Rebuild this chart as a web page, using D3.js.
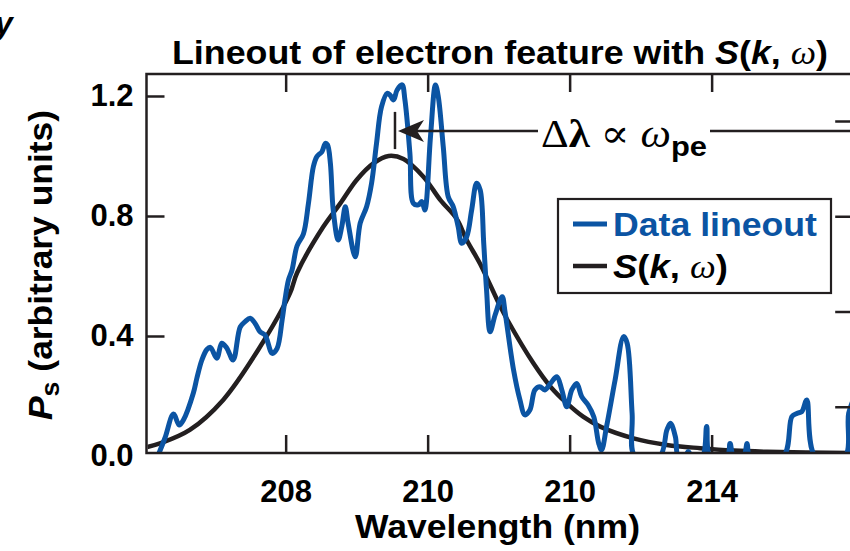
<!DOCTYPE html>
<html>
<head>
<meta charset="utf-8">
<script src="https://cdn.jsdelivr.net/npm/d3@7"></script>
<style>
  html, body { margin: 0; padding: 0; background: #ffffff; }
  svg { display: block; }
</style>
</head>
<body>
<svg id="chart" width="850" height="551"></svg>
<script>
// Measured lineout of the electron feature (wavelength in nm, signal in arbitrary units)
const lineoutWavelength = [
  206.20, 206.30, 206.42, 206.50, 206.56, 206.70, 206.75, 206.82, 206.89, 206.94,
  207.03, 207.10, 207.17, 207.26, 207.36, 207.43, 207.50, 207.57, 207.64, 207.71,
  207.81, 207.88, 207.95, 207.99, 208.04, 208.09, 208.16, 208.25, 208.32, 208.39,
  208.44, 208.51, 208.56, 208.59, 208.63, 208.67, 208.74, 208.79, 208.84, 208.88,
  208.98, 209.05, 209.14, 209.21, 209.28, 209.35, 209.43, 209.47, 209.52, 209.57,
  209.64, 209.68, 209.75, 209.80, 209.87, 209.92, 209.96, 210.04, 210.11, 210.15,
  210.22, 210.29, 210.36, 210.43, 210.48, 210.55, 210.62, 210.69, 210.74, 210.79,
  210.83, 210.88, 210.95, 211.05, 211.09, 211.21, 211.30, 211.37, 211.44, 211.51,
  211.58, 211.65, 211.73, 211.82, 211.89, 211.96, 212.03, 212.10, 212.17, 212.26,
  212.34, 212.41, 212.45, 212.52, 212.64, 212.76, 212.81, 212.88, 212.92, 213.27,
  213.37, 213.42, 213.49, 213.53, 213.63, 213.67, 213.72, 213.87, 213.93, 213.98,
  214.22, 214.26, 214.31, 214.45, 214.50, 214.54, 215.01, 215.13, 215.20, 215.27,
  215.34, 215.46, 215.88, 215.93, 216.02
];
const lineoutSignal = [
  0.00, 0.06, 0.14, 0.103, 0.12, 0.21, 0.26, 0.32, 0.355, 0.362,
  0.326, 0.376, 0.36, 0.32, 0.43, 0.448, 0.459, 0.442, 0.414, 0.403,
  0.342, 0.359, 0.453, 0.52, 0.587, 0.62, 0.70, 0.74, 0.84, 0.964,
  0.998, 1.014, 1.042, 1.037, 0.976, 0.82, 0.72, 0.764, 0.831, 0.776,
  0.664, 0.776, 0.831, 0.909, 1.042, 1.164, 1.209, 1.203, 1.187, 1.22,
  1.237, 1.187, 1.009, 0.842, 0.837, 0.848, 0.82, 1.064, 1.237, 1.198,
  1.031, 0.864, 0.831, 0.764, 0.709, 0.731, 0.82, 0.909, 0.887, 0.709,
  0.553, 0.414, 0.47, 0.531, 0.48, 0.287, 0.187, 0.137, 0.153, 0.22,
  0.231, 0.22, 0.242, 0.264, 0.22, 0.164, 0.22, 0.242, 0.198, 0.17,
  0.131, 0.042, 0.02, 0.098, 0.253, 0.398, 0.376, 0.142, 0.00, 0.00,
  0.087, 0.109, 0.064, 0.00, 0.00, 0.015, 0.00, 0.00, 0.098, 0.00,
  0.00, 0.042, 0.00, 0.00, 0.042, 0.00, 0.00, 0.131, 0.142, 0.148,
  0.187, 0.00, 0.00, 0.142, 0.20
];

// Computed form factor S(k, ω)
const modelWavelength = [
  206.05, 206.23, 206.65, 207.12, 207.64, 208.06, 208.16, 208.53, 208.77, 209.00,
  209.24, 209.45, 209.66, 209.94, 210.18, 210.41, 210.55, 210.74, 211.02, 211.12,
  211.49, 211.73, 211.96, 212.19, 212.43, 212.90, 213.37, 213.84, 214.31, 214.78,
  215.98
];
const modelSignal = [
  0.030, 0.042, 0.087, 0.187, 0.364, 0.542, 0.61, 0.764, 0.842, 0.920,
  0.976, 1.000, 0.990, 0.931, 0.853, 0.790, 0.720, 0.640, 0.500, 0.455,
  0.309, 0.231, 0.176, 0.131, 0.098, 0.059, 0.037, 0.026, 0.018, 0.014,
  0.010
];

const xTickValues = [208, 210, 212, 214];
const xTickLabels = ["208", "210", "210", "214"];
const yTickValues = [0, 0.4, 0.8, 1.2];
const yTickLabels = ["0.0", "0.4", "0.8", "1.2"];
const rightTickValues = [1, 2, 3, 4];
const legendLabels = ["Data lineout", "S(k, ω)"];

// Spacing marker on the main peak
const markerWavelength = 209.54;
const markerExtent = [1.023, 1.147];
const arrowLevel = 1.083;

const ink = "#231f20";
const blue = "#0b54a3";
const sans = "'Liberation Sans', Arial, Helvetica, sans-serif";
const serif = "'Liberation Serif', 'DejaVu Serif', 'Times New Roman', serif";

const svg = d3.select("#chart")
  .attr("font-family", sans)
  .attr("font-weight", "bold");
const plot = { left: 146.5, right: 852.2, top: 74, bottom: 453 };

const x = d3.scaleLinear().domain([206.04, 215.98]).range([plot.left, plot.right]);
const y = d3.scaleLinear().domain([0.01, 1.2733]).range([plot.bottom, plot.top]);
const yRight = d3.scaleLinear().domain([0, 4]).range([502, 121]);

svg.append("defs").append("clipPath").attr("id", "plotClip")
  .append("rect")
  .attr("x", plot.left + 1).attr("y", plot.top + 1)
  .attr("width", plot.right - plot.left - 2)
  .attr("height", plot.bottom - plot.top - 2);

// Curves
const lineoutData = lineoutWavelength.map((w, i) => ({ w, v: lineoutSignal[i] }));
const modelData = modelWavelength.map((w, i) => ({ w, v: modelSignal[i] }));

const curves = svg.append("g").attr("clip-path", "url(#plotClip)");

curves.append("path")
  .datum(modelData)
  .attr("fill", "none")
  .attr("stroke", ink)
  .attr("stroke-width", 4.5)
  .attr("stroke-linejoin", "round")
  .attr("d", d3.line().x(d => x(d.w)).y(d => y(d.v)).curve(d3.curveCatmullRom.alpha(0.5)));

curves.append("path")
  .datum(lineoutData)
  .attr("fill", "none")
  .attr("stroke", blue)
  .attr("stroke-width", 5)
  .attr("stroke-linejoin", "round")
  .attr("stroke-linecap", "round")
  .attr("d", d3.line().x(d => x(d.w)).y(d => y(d.v)).curve(d3.curveCatmullRom.alpha(0.5)));

// Axes (ticks point inward)
function styleAxis(g) {
  g.select(".domain").remove();
  g.attr("font-family", null).attr("font-size", null);
  g.selectAll(".tick line").attr("stroke", ink).attr("stroke-width", 2.5);
  g.selectAll(".tick text").attr("font-size", 31).attr("fill", "#000");
}

svg.append("g")
  .attr("transform", `translate(0,${plot.bottom})`)
  .call(d3.axisBottom(x).tickValues(xTickValues)
    .tickFormat((d, i) => xTickLabels[i]).tickSize(-18).tickPadding(27))
  .call(styleAxis);

svg.append("g")
  .attr("transform", `translate(0,${plot.top})`)
  .call(d3.axisTop(x).tickValues(xTickValues).tickFormat("").tickSize(-18))
  .call(styleAxis);

svg.append("g")
  .attr("transform", `translate(${plot.left},0)`)
  .call(d3.axisLeft(y).tickValues(yTickValues)
    .tickFormat((d, i) => yTickLabels[i]).tickSize(-18).tickPadding(13))
  .call(styleAxis)
  .call(g => g.selectAll(".tick").filter(d => d === 0).select("line").remove());

svg.append("g")
  .attr("transform", `translate(${plot.right},0)`)
  .call(d3.axisRight(yRight).tickValues(rightTickValues).tickFormat("").tickSize(-17))
  .call(styleAxis);

// Frame
svg.append("rect")
  .attr("x", plot.left).attr("y", plot.top)
  .attr("width", plot.right - plot.left).attr("height", plot.bottom - plot.top)
  .attr("fill", "none").attr("stroke", ink).attr("stroke-width", 2.5);

// Title
const title = svg.append("text")
  .attr("x", 172).attr("y", 64)
  .attr("font-size", 34)
  .attr("textLength", 656).attr("lengthAdjust", "spacingAndGlyphs");
title.append("tspan").text("Lineout of electron feature with ");
title.append("tspan").attr("font-style", "italic").text("S");
title.append("tspan").text("(");
title.append("tspan").attr("font-style", "italic").text("k");
title.append("tspan").text(", ");
title.append("tspan").attr("font-family", serif)
  .attr("font-style", "italic").attr("font-weight", "normal").text("ω");
title.append("tspan").text(")");

// Axis titles
svg.append("text")
  .attr("x", 355).attr("y", 538)
  .attr("font-size", 33)
  .attr("textLength", 285).attr("lengthAdjust", "spacingAndGlyphs")
  .text("Wavelength (nm)");

const yTitle = svg.append("text")
  .attr("transform", "translate(52,420) rotate(-90)")
  .attr("font-size", 33)
  .attr("textLength", 310).attr("lengthAdjust", "spacingAndGlyphs");
yTitle.append("tspan").attr("font-style", "italic").text("P");
yTitle.append("tspan").attr("font-size", 25).attr("dy", 7).text("s");
yTitle.append("tspan").attr("dy", -7).text(" (arbitrary units)");

// Cropped neighbouring label at the top-left corner
svg.append("text")
  .attr("x", -5).attr("y", 34)
  .attr("font-size", 32).attr("font-style", "italic")
  .text("y");

// Legend
const legend = svg.append("g");
legend.append("rect")
  .attr("x", 558).attr("y", 199).attr("width", 273).attr("height", 94)
  .attr("fill", "#fff").attr("stroke", ink).attr("stroke-width", 2.2);
legend.append("line")
  .attr("x1", 573).attr("x2", 607).attr("y1", 224).attr("y2", 224)
  .attr("stroke", blue).attr("stroke-width", 5);
legend.append("text")
  .attr("x", 613).attr("y", 236).attr("font-size", 33)
  .attr("textLength", 204).attr("lengthAdjust", "spacingAndGlyphs")
  .attr("fill", blue)
  .text(legendLabels[0]);
legend.append("line")
  .attr("x1", 573).attr("x2", 607).attr("y1", 266).attr("y2", 266)
  .attr("stroke", ink).attr("stroke-width", 4.5);
const leg2 = legend.append("text")
  .attr("x", 613).attr("y", 278).attr("font-size", 33)
  .attr("textLength", 115).attr("lengthAdjust", "spacingAndGlyphs");
const parts = legendLabels[1].match(/^(S)(\()(k)(, )(ω)(\))$/);
leg2.append("tspan").attr("font-style", "italic").text(parts[1]);
leg2.append("tspan").text(parts[2]);
leg2.append("tspan").attr("font-style", "italic").text(parts[3]);
leg2.append("tspan").text(parts[4]);
leg2.append("tspan").attr("font-family", serif)
  .attr("font-style", "italic").attr("font-weight", "normal").text(parts[5]);
leg2.append("tspan").text(parts[6]);

// Spacing annotation: marker, arrow and label
const ann = svg.append("g");
const markX = x(markerWavelength);
const arrowY = y(arrowLevel);
ann.append("line")
  .attr("x1", markX).attr("x2", markX)
  .attr("y1", y(markerExtent[1])).attr("y2", y(markerExtent[0]))
  .attr("stroke", ink).attr("stroke-width", 2.5);

const label = ann.append("text")
  .attr("x", 541).attr("y", 147)
  .attr("font-size", 39)
  .attr("font-family", serif)
  .attr("font-weight", "normal")
  .attr("textLength", 166).attr("lengthAdjust", "spacingAndGlyphs");
label.append("tspan").text("Δ");
label.append("tspan").attr("font-weight", "bold").text("λ");
label.append("tspan").text(" ∝ ");
label.append("tspan").attr("font-style", "italic").text("ω");
label.append("tspan")
  .attr("font-family", sans)
  .attr("font-weight", "bold").attr("font-size", 28).attr("dy", 9).text("pe");

const lb = label.node().getBBox();
const tipX = markX + 3;
ann.append("line")
  .attr("x1", tipX + 18).attr("x2", lb.x - 3)
  .attr("y1", arrowY).attr("y2", arrowY)
  .attr("stroke", ink).attr("stroke-width", 2.5);
ann.append("line")
  .attr("x1", lb.x + lb.width + 3).attr("x2", 860)
  .attr("y1", arrowY).attr("y2", arrowY)
  .attr("stroke", ink).attr("stroke-width", 2.5);
ann.append("path")
  .attr("d", `M${tipX},${arrowY} L${tipX + 26},${arrowY - 11} L${tipX + 19},${arrowY} L${tipX + 26},${arrowY + 11} Z`)
  .attr("fill", ink);
</script>
</body>
</html>
